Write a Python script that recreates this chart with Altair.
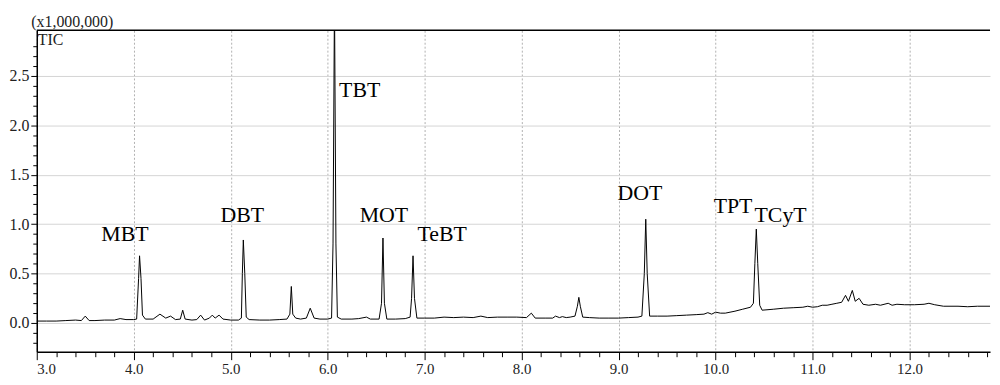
import altair as alt
import pandas as pd

# Retention time (min) and TIC intensity (x1,000,000)
rt = [3.00, 3.10, 3.20, 3.30, 3.40, 3.46, 3.50, 3.54, 3.60, 3.70, 3.80, 3.86, 3.92, 4.00,
      4.03, 4.05, 4.06, 4.075, 4.09, 4.12, 4.20, 4.27, 4.33, 4.38, 4.43, 4.48, 4.505, 4.53,
      4.60, 4.65, 4.69, 4.73, 4.78, 4.81, 4.84, 4.88, 4.92, 5.00, 5.08, 5.11, 5.12, 5.13,
      5.145, 5.16, 5.19, 5.30, 5.40, 5.50, 5.58, 5.61, 5.625, 5.64, 5.67, 5.72, 5.78, 5.82,
      5.86, 5.92, 6.00, 6.04, 6.055, 6.07, 6.085, 6.10, 6.14, 6.25, 6.32, 6.40, 6.44, 6.53,
      6.555, 6.57, 6.585, 6.61, 6.70, 6.80, 6.85, 6.865, 6.88, 6.895, 6.92, 7.00, 7.10, 7.20,
      7.30, 7.40, 7.50, 7.58, 7.65, 7.75, 7.85, 7.95, 8.05, 8.10, 8.14, 8.25, 8.32, 8.35,
      8.39, 8.42, 8.46, 8.50, 8.55, 8.575, 8.59, 8.605, 8.63, 8.70, 8.80, 8.90, 9.00, 9.10,
      9.20, 9.24, 9.265, 9.28, 9.295, 9.32, 9.40, 9.50, 9.60, 9.70, 9.80, 9.88, 9.92, 9.96,
      10.00, 10.05, 10.10, 10.20, 10.28, 10.36, 10.39, 10.405, 10.42, 10.435, 10.455, 10.48,
      10.60, 10.70, 10.80, 10.90, 10.95, 11.00, 11.05, 11.10, 11.15, 11.20, 11.25, 11.30,
      11.34, 11.37, 11.41, 11.44, 11.48, 11.52, 11.58, 11.65, 11.70, 11.78, 11.82, 11.87,
      11.95, 12.05, 12.15, 12.20, 12.26, 12.35, 12.50, 12.60, 12.70, 12.83]
tic = [0.02, 0.02, 0.02, 0.025, 0.03, 0.025, 0.07, 0.025, 0.025, 0.03, 0.03, 0.045, 0.035, 0.035,
       0.04, 0.45, 0.68, 0.45, 0.08, 0.04, 0.04, 0.09, 0.05, 0.07, 0.035, 0.04, 0.13, 0.04,
       0.03, 0.035, 0.08, 0.03, 0.05, 0.08, 0.05, 0.08, 0.04, 0.03, 0.03, 0.05, 0.5, 0.84,
       0.5, 0.06, 0.035, 0.03, 0.03, 0.035, 0.04, 0.09, 0.37, 0.09, 0.05, 0.04, 0.05, 0.15,
       0.05, 0.04, 0.04, 0.05, 0.8, 3.3, 0.8, 0.06, 0.04, 0.04, 0.045, 0.06, 0.04, 0.04,
       0.2, 0.86, 0.2, 0.04, 0.04, 0.045, 0.06, 0.25, 0.68, 0.25, 0.05, 0.05, 0.05, 0.06,
       0.055, 0.06, 0.055, 0.07, 0.055, 0.06, 0.06, 0.06, 0.055, 0.10, 0.05, 0.05, 0.05, 0.07,
       0.055, 0.065, 0.055, 0.06, 0.07, 0.17, 0.26, 0.17, 0.06, 0.055, 0.05, 0.05, 0.05, 0.055,
       0.06, 0.07, 0.5, 1.05, 0.5, 0.07, 0.07, 0.07, 0.075, 0.08, 0.085, 0.09, 0.105, 0.09,
       0.11, 0.10, 0.10, 0.12, 0.14, 0.16, 0.2, 0.6, 0.95, 0.6, 0.18, 0.13,
       0.14, 0.15, 0.155, 0.16, 0.17, 0.16, 0.165, 0.18, 0.18, 0.19, 0.20, 0.21,
       0.28, 0.22, 0.33, 0.22, 0.25, 0.19, 0.18, 0.19, 0.18, 0.2, 0.18, 0.19,
       0.185, 0.185, 0.19, 0.20, 0.185, 0.17, 0.17, 0.165, 0.17, 0.17]

# Peak annotations (label, position in data units)
peak_names = ["MBT", "DBT", "TBT", "MOT", "TeBT", "DOT", "TPT", "TCyT"]
peak_label_x = [3.91, 5.12, 6.33, 6.58, 7.18, 9.22, 10.18, 10.67]
peak_label_y = [0.83, 1.02, 2.29, 1.02, 0.83, 1.245, 1.11, 1.02]

x_ticks = [round(3.0 + 0.2 * i, 1) for i in range(50)]
y_ticks = [round(-0.2 + 0.1 * i, 1) for i in range(31)]

W, H = 961, 324
XDOM = [3.0, 12.83]
YDOM = [-0.29, 2.96]

df = pd.DataFrame({"rt": rt, "tic": tic})
labels = pd.DataFrame({"rt": peak_label_x, "tic": peak_label_y, "name": peak_names})
one = pd.DataFrame({"k": [0]})

SERIF = "Liberation Serif"
x_major = "abs(datum.value - round(datum.value)) < 0.01"
y_major = "abs(datum.value * 2 - round(datum.value * 2)) < 0.01"

x_scale = alt.Scale(domain=XDOM, nice=False, zero=False)
y_scale = alt.Scale(domain=YDOM, nice=False, zero=False)

x_axis = alt.Axis(
    values=x_ticks,
    title=None,
    labelExpr=f"({x_major}) ? format(datum.value, '.1f') : ''",
    labelOverlap=False,
    labelFont=SERIF,
    labelFontSize=15,
    labelColor="#222",
    labelPadding=2,
    tickSize={"condition": {"test": x_major, "value": 8}, "value": 5},
    tickColor="#000",
    tickWidth=1,
    domainColor="#000",
    domainWidth=1.5,
    grid=True,
    gridDash=[2, 2],
    gridColor="#b0b0b0",
    gridOpacity={"condition": {"test": x_major, "value": 1}, "value": 0},
)
y_axis = alt.Axis(
    values=y_ticks,
    title="(x1,000,000)",
    titleAngle=0,
    titleAlign="left",
    titleBaseline="bottom",
    titleX=-6,
    titleY=-1,
    titleFont=SERIF,
    titleFontSize=16,
    titleFontWeight="normal",
    titleColor="#222",
    labelExpr=f"({y_major}) ? format(datum.value, '.1f') : ''",
    labelOverlap=False,
    labelFont=SERIF,
    labelFontSize=16,
    labelColor="#222",
    labelPadding=2,
    tickSize={"condition": {"test": y_major, "value": 6}, "value": 4},
    tickColor="#000",
    domainColor="#000",
    domainWidth=1.5,
    grid=True,
    gridColor="#d4d4d4",
    gridOpacity={"condition": {"test": y_major, "value": 1}, "value": 0},
)

line = alt.Chart(df).mark_line(color="#000", strokeWidth=1, clip=True).encode(
    x=alt.X("rt:Q", scale=x_scale, axis=x_axis),
    y=alt.Y("tic:Q", scale=y_scale, axis=y_axis),
)

texts = alt.Chart(labels).mark_text(
    font=SERIF, fontSize=22, color="#000", align="center", baseline="alphabetic"
).encode(
    x=alt.X("rt:Q", scale=x_scale, axis=x_axis),
    y=alt.Y("tic:Q", scale=y_scale, axis=y_axis),
    text="name:N",
)

top_line = alt.Chart(one).mark_rule(color="#000", strokeWidth=1.5).encode(
    x=alt.value(0), x2=alt.value(W), y=alt.value(0)
)

tic_label = alt.Chart(one).mark_text(
    font=SERIF, fontSize=16, color="#222", align="left", baseline="top"
).encode(x=alt.value(1), y=alt.value(2), text=alt.value("TIC"))

chart = alt.layer(line, texts, top_line, tic_label).properties(
    width=W,
    height=H,
    autosize=alt.AutoSizeParams(type="none"),
    padding={"left": 29, "top": 21, "right": 2, "bottom": 28},
).configure(background="white").configure_view(stroke=None)

chart.save("out.html", embed_options={"renderer": "svg", "actions": False})
